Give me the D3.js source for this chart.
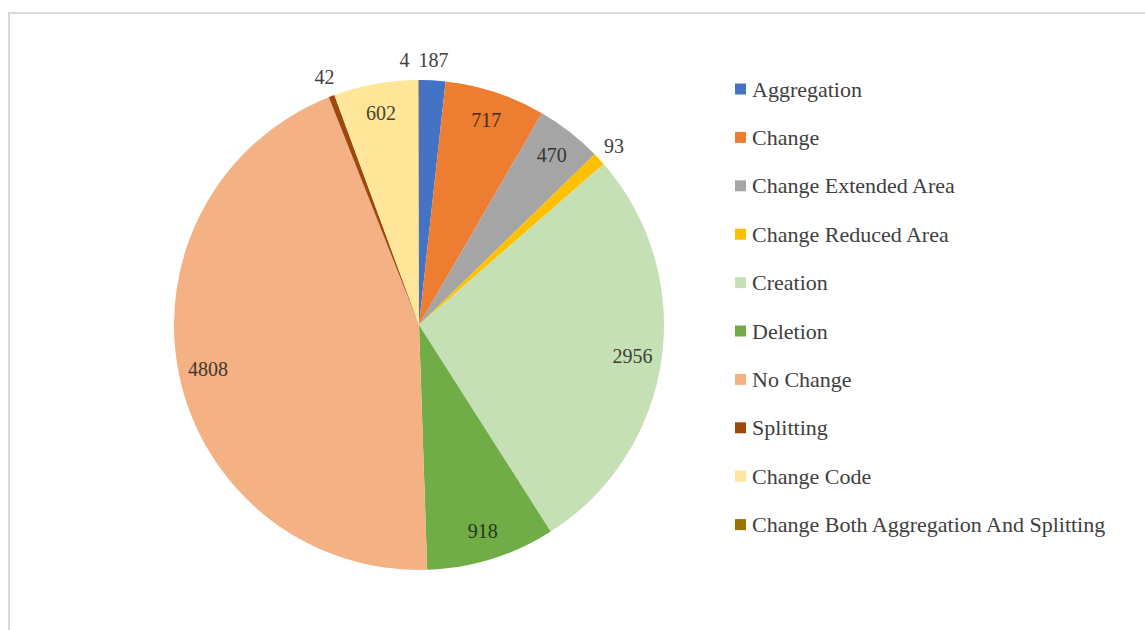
<!DOCTYPE html>
<html>
<head>
<meta charset="utf-8">
<script src="https://cdn.jsdelivr.net/npm/d3@7"></script>
<style>
  html, body { margin: 0; padding: 0; background: #ffffff; }
  svg { display: block; }
</style>
</head>
<body>
<svg id="chart" width="1145" height="630" font-family="'Liberation Serif', 'Times New Roman', Times, 'DejaVu Serif', serif"></svg>
<script>
// Categories of change and their counts
const categories = [
  "Aggregation",
  "Change",
  "Change Extended Area",
  "Change Reduced Area",
  "Creation",
  "Deletion",
  "No Change",
  "Splitting",
  "Change Code",
  "Change Both Aggregation And Splitting"
];
const counts = [187, 717, 470, 93, 2956, 918, 4808, 42, 602, 4];
const palette = [
  "#4472C4", "#ED7D31", "#A5A5A5", "#FFC000", "#C5E0B4",
  "#70AD47", "#F4B183", "#9E480E", "#FFE699", "#997300"
];

const width = 1145, height = 630;
const serif = "'Liberation Serif', 'Times New Roman', Times, 'DejaVu Serif', serif";
const svg = d3.select("#chart");

// light frame around the chart area
svg.append("rect")
  .attr("x", 9).attr("y", 13)
  .attr("width", width + 20).attr("height", height + 20)
  .attr("fill", "#ffffff")
  .attr("stroke", "#d9d9d9")
  .attr("stroke-width", 2);

const cx = 419, cy = 325, radius = 245;
const color = d3.scaleOrdinal().domain(categories).range(palette);

const data = categories.map((c, i) => ({ name: c, value: counts[i] }));
const total = d3.sum(counts);

const pie = d3.pie().value(d => d.value).sort(null);
const arcs = pie(data);
const arc = d3.arc().innerRadius(0).outerRadius(radius);

const g = svg.append("g").attr("transform", `translate(${cx},${cy})`);

g.selectAll("path.slice")
  .data(arcs)
  .join("path")
  .attr("class", "slice")
  .attr("d", arc)
  .attr("fill", d => color(d.data.name));

// data labels: inside for larger slices, just outside the rim for thin ones
const inner = d3.arc().innerRadius(radius * 0.88).outerRadius(radius * 0.88);
const outer = d3.arc().innerRadius(radius + 20).outerRadius(radius + 20);
const labelFont = 20;

const labels = g.selectAll("text.val")
  .data(arcs)
  .join("text")
  .attr("class", "val")
  .attr("font-family", serif)
  .attr("text-anchor", "middle")
  .attr("dominant-baseline", "central")
  .attr("font-size", labelFont)
  .text(d => d.data.value)
  .each(function(d) {
    d.outside = d.data.value / total < 0.03;
    const p = (d.outside ? outer : inner).centroid(d);
    d.lx = p[0]; d.ly = p[1];
    d.w = this.getComputedTextLength();
  });

// keep neighbouring outside labels from overlapping
const outs = arcs.filter(d => d.outside).sort((a, b) => b.lx - a.lx);
for (let i = 1; i < outs.length; i++) {
  const a = outs[i - 1], b = outs[i];
  if (Math.abs(a.ly - b.ly) < labelFont) {
    const minGap = (a.w + b.w) / 2 + 9;
    if (a.lx - b.lx < minGap) b.lx = a.lx - minGap;
  }
}

labels
  .attr("x", d => d.lx)
  .attr("y", d => d.ly)
  .attr("fill", d => d.outside ? "#404040"
    : d3.interpolateRgb(color(d.data.name), "#141414")(0.78));

// legend
const legendX = 735, legendY0 = 89, legendStep = 48.4, sw = 11;
const legend = svg.append("g");
const item = legend.selectAll("g")
  .data(categories)
  .join("g")
  .attr("transform", (d, i) => `translate(${legendX},${legendY0 + i * legendStep})`);

item.append("rect")
  .attr("x", 0).attr("y", -sw / 2)
  .attr("width", sw).attr("height", sw)
  .attr("fill", d => color(d));

item.append("text")
  .attr("x", 17)
  .attr("y", 0)
  .attr("font-family", serif)
  .attr("dominant-baseline", "central")
  .attr("font-size", 22)
  .attr("fill", "#404040")
  .text(d => d);
</script>
</body>
</html>
